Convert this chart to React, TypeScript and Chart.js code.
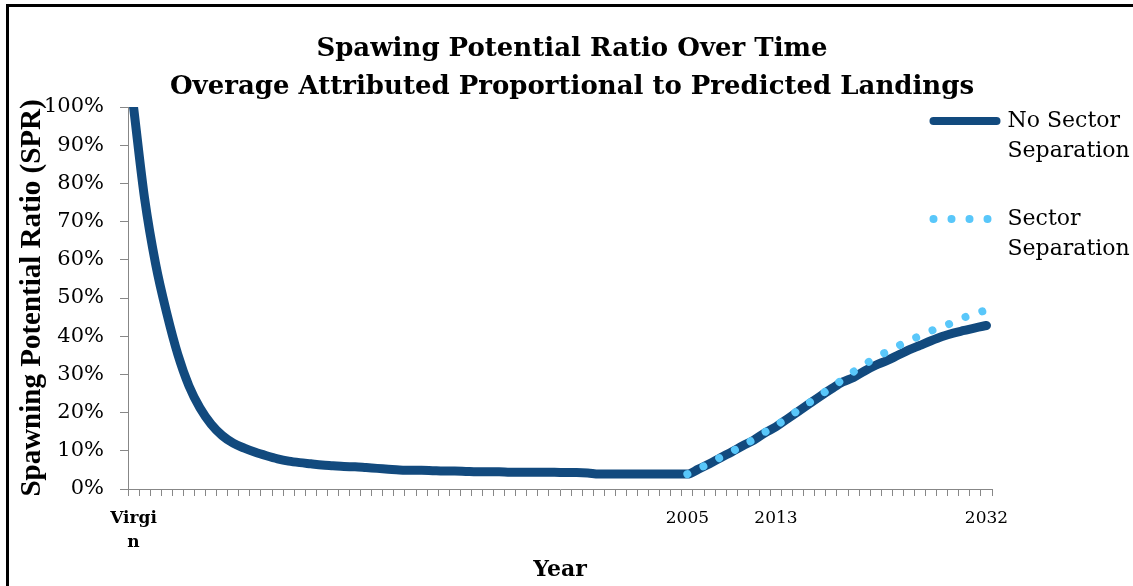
import React, { useEffect, useRef } from 'react';
import { Chart, registerables } from 'chart.js';

Chart.register(...registerables);

// ---- chart data ----
const titleLines = [
  'Spawing Potential Ratio Over Time',
  'Overage Attributed Proportional to Predicted Landings',
];
const yAxisTitle = 'Spawning Potential Ratio (SPR)';
const xAxisTitle = 'Year';

const firstYear = 1956;
const lastYear = 2032;
const categories: (string | number)[] = [
  'Virgin',
  ...Array.from({ length: lastYear - firstYear + 1 }, (_, i) => firstYear + i),
];
const labeledYears = [2005, 2013, 2032];
const virginLabelLines = ['Virgi', 'n'];

const seriesNames = ['No Sector Separation', 'Sector Separation'];
const legendLines = [
  ['No Sector', 'Separation'],
  ['Sector', 'Separation'],
];

// SPR (%) without sector separation, Virgin .. 2032
const noSectorSeparation = [
  100, 76, 58.8, 46, 35.2, 27, 21.2, 17, 14, 12,
  10.7, 9.6, 8.7, 7.9, 7.3, 6.9, 6.6, 6.3, 6.1, 5.9,
  5.8, 5.6, 5.4, 5.2, 5.0, 4.9, 4.9, 4.8, 4.7, 4.7,
  4.6, 4.5, 4.5, 4.5, 4.4, 4.4, 4.4, 4.4, 4.4, 4.3,
  4.3, 4.2, 3.9, 3.9, 3.9, 3.9, 3.9, 3.9, 3.9, 3.9,
  3.9, 5.2, 6.6, 8.2, 9.7, 11.3, 12.8, 14.7, 16.3, 18.3,
  20.3, 22.3, 24.3, 26.2, 28.0, 29.2, 30.9, 32.4, 33.6, 35.0,
  36.4, 37.6, 38.8, 39.9, 40.8, 41.5, 42.2, 42.8,
];

// SPR (%) with sector separation, 2005 .. 2032
const sectorSeparationStartYear = 2005;
const sectorSeparation = [
  3.9, 5.3, 6.7, 8.3, 9.8, 11.4, 13.0, 14.9, 16.6, 18.6,
  20.6, 22.6, 24.6, 26.6, 28.6, 30.7, 32.6, 34.4, 35.9, 37.4,
  38.8, 40.1, 41.4, 42.5, 43.6, 44.9, 46.0, 46.8,
];

const DARK = '#124a7e';
const LIGHT = '#59c7fa';
const AXIS_GRAY = '#878787';
const SERIF = "'DejaVu Serif', serif";

export default function App() {
  const ref = useRef<HTMLCanvasElement>(null);

  useEffect(() => {
    const canvas = ref.current;
    if (!canvas) return;

    const startIdx = categories.indexOf(sectorSeparationStartYear);
    const sectorData = categories.map((_, i) =>
      i >= startIdx ? sectorSeparation[i - startIdx] : null
    );

    // keeps the legend column beside the right end of the plot
    const legendPlacement = {
      id: 'legendPlacement',
      afterLayout(chart: any) {
        const lg = chart.legend;
        if (!lg) return;
        lg.left = 895.5;
        lg.right = chart.width;
        lg.width = lg.right - lg.left;
        lg.top = 72;
        lg.bottom = chart.height;
        lg.height = lg.bottom - lg.top;
      },
    };

    const chart = new Chart(canvas, {
      type: 'line',
      data: {
        labels: categories,
        datasets: [
          {
            label: seriesNames[0],
            data: noSectorSeparation,
            borderColor: DARK,
            backgroundColor: DARK,
            borderWidth: 9,
            borderCapStyle: 'round',
            borderJoinStyle: 'round',
            pointRadius: 0,
            cubicInterpolationMode: 'monotone',
            clip: 0,
            order: 1,
          },
          {
            label: seriesNames[1],
            data: sectorData,
            borderColor: LIGHT,
            backgroundColor: LIGHT,
            borderWidth: 8,
            borderDash: [0.001, 17.8],
            borderCapStyle: 'round',
            borderJoinStyle: 'round',
            pointRadius: 0,
            cubicInterpolationMode: 'monotone',
            order: 0,
          },
        ],
      } as any,
      options: {
        responsive: false,
        animation: false,
        devicePixelRatio: 1,
        events: [],
        layout: { padding: { left: 11, right: 0, top: 0, bottom: 0 } },
        plugins: {
          tooltip: { enabled: false },
          title: {
            display: true,
            text: titleLines,
            color: '#000',
            font: { family: SERIF, size: 26, weight: 'bold', lineHeight: 38 / 26 },
            padding: { top: 30, bottom: 1 },
          },
          legend: {
            display: true,
            position: 'right',
            align: 'start',
            maxWidth: 141,
            labels: {
              usePointStyle: true,
              pointStyleWidth: 63,
              boxWidth: 63,
              padding: 38,
              color: '#000',
              font: { family: SERIF, size: 22, lineHeight: 30 / 22 },
              generateLabels: (c: any) =>
                c.data.datasets.map((ds: any, i: number) => ({
                  text: legendLines[i],
                  fillStyle: ds.borderColor,
                  strokeStyle: ds.borderColor,
                  lineWidth: i === 0 ? 8 : ds.borderWidth,
                  lineCap: 'round',
                  lineJoin: 'round',
                  lineDash: i === 0 ? [] : [0.001, 18],
                  pointStyle: 'line',
                  hidden: false,
                  fontColor: '#000',
                  datasetIndex: i,
                })),
            },
          },
        },
        scales: {
          x: {
            type: 'category',
            offset: true,
            grid: {
              display: true,
              offset: true,
              drawOnChartArea: false,
              drawTicks: true,
              tickLength: 7,
              color: AXIS_GRAY,
              lineWidth: 1,
            },
            border: { display: true, color: AXIS_GRAY, width: 1 },
            ticks: {
              autoSkip: false,
              maxRotation: 0,
              minRotation: 0,
              padding: 11,
              color: '#000',
              font: (ctx: any) => ({
                family: SERIF,
                size: 17,
                lineHeight: 24 / 17,
                weight: ctx.index === 0 ? 'bold' : 'normal',
              }),
              callback: (_v: any, index: number) => {
                const c = categories[index];
                if (c === 'Virgin') return virginLabelLines;
                return labeledYears.includes(c as number) ? String(c) : '';
              },
            },
            title: {
              display: true,
              text: xAxisTitle,
              color: '#000',
              font: { family: SERIF, size: 22, weight: 'bold' },
              padding: { top: 0, bottom: 3 },
            },
            afterFit: (scale: any) => {
              scale.height = 97;
            },
          },
          y: {
            min: 0,
            max: 100,
            grid: {
              display: true,
              drawOnChartArea: false,
              drawTicks: true,
              tickLength: 8,
              color: AXIS_GRAY,
              lineWidth: 1,
            },
            border: { display: true, color: AXIS_GRAY, width: 1 },
            ticks: {
              stepSize: 10,
              padding: 16,
              color: '#000',
              font: { family: SERIF, size: 21 },
              callback: (v: any) => `${v}%`,
            },
            title: {
              display: true,
              text: yAxisTitle,
              color: '#000',
              font: { family: "'Liberation Serif', serif", size: 29, weight: 'bold' },
              padding: { top: 4, bottom: 0 },
            },
            afterFit: (scale: any) => {
              scale.width = 117;
            },
          },
        },
      } as any,
      plugins: [legendPlacement],
    });

    return () => chart.destroy();
  }, []);

  return (
    <div
      style={{
        position: 'fixed',
        left: 0,
        top: 0,
        width: 1133,
        height: 586,
        overflow: 'hidden',
        background: '#fff',
      }}
    >
      <div
        style={{
          position: 'absolute',
          left: 6,
          top: 4,
          width: 1200,
          height: 700,
          border: '3px solid #000',
          boxSizing: 'border-box',
        }}
      />
      <canvas
        ref={ref}
        width={1133}
        height={586}
        style={{ position: 'absolute', left: 0, top: 0, width: 1133, height: 586 }}
      />
    </div>
  );
}
